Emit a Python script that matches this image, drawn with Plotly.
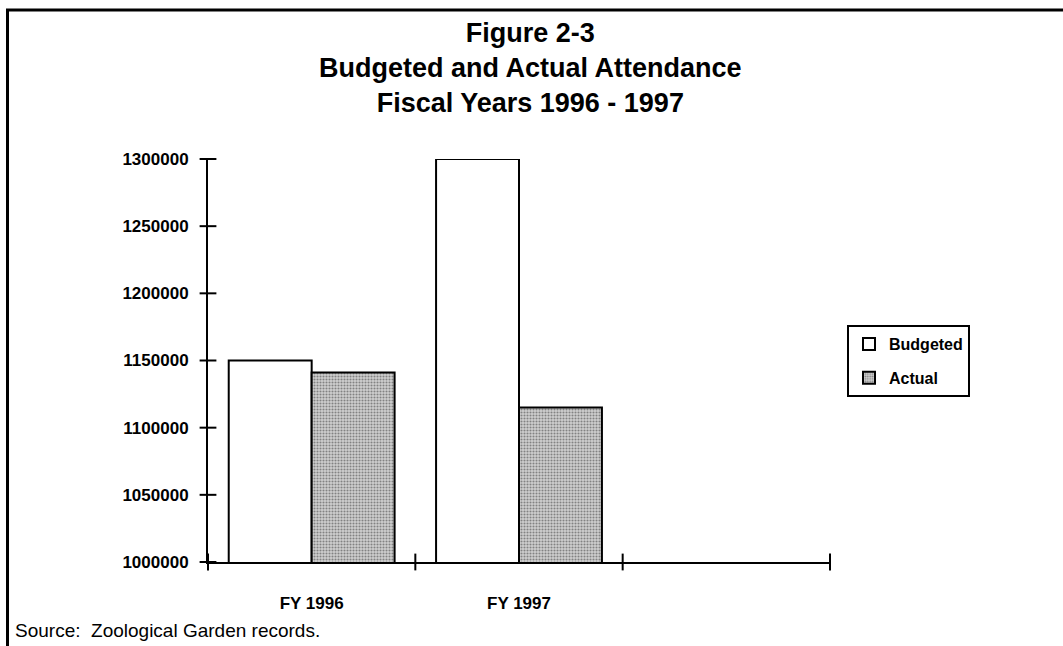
import plotly.graph_objects as go

# ---- data ----
categories = ["FY 1996", "FY 1997"]
budgeted = [1150000, 1300000]
actual = [1141000, 1115000]
y_ticks = [1000000, 1050000, 1100000, 1150000, 1200000, 1250000, 1300000]
x_boundaries = [-0.5, 0.5, 1.5, 2.5]
title_lines = ["Figure 2-3", "Budgeted and Actual Attendance", "Fiscal Years 1996 - 1997"]
source_text = "Source:\u00a0 Zoological Garden records."

W, H = 1063, 646
L, R, T, B = 208, 233, 159, 84
PW, PH = W - L - R, H - T - B

def px_x(p):
    return (p - L) / PW

def px_y(p):
    return (H - B - p) / PH

FONT = "Liberation Sans, Arial, Helvetica, sans-serif"
xpos = list(range(len(categories)))

fig = go.Figure()
fig.add_trace(go.Bar(
    x=xpos, y=budgeted, name="Budgeted", legendgroup="b",
    marker=dict(color="white", line=dict(color="black", width=2)),
))
fig.add_trace(go.Bar(
    x=xpos, y=actual, name="Actual", legendgroup="a",
    marker=dict(color="#c4c4c4", line=dict(color="black", width=2),
                pattern=dict(shape=".", fgcolor="#333333", bgcolor="#d0d0d0",
                             size=3, solidity=0.4)),
))
# crossing tick marks on both axes
fig.add_trace(go.Scatter(
    x=[x_boundaries[0]] * len(y_ticks), y=y_ticks, mode="markers",
    marker=dict(symbol="line-ew", size=12, line=dict(color="black", width=2)),
    showlegend=False, hoverinfo="skip", cliponaxis=False,
))
fig.add_trace(go.Scatter(
    x=x_boundaries, y=[y_ticks[0]] * len(x_boundaries), mode="markers",
    marker=dict(symbol="line-ns", size=12, line=dict(color="black", width=2)),
    showlegend=False, hoverinfo="skip", cliponaxis=False,
))

fig.update_layout(
    width=W, height=H, autosize=False,
    margin=dict(l=L, r=R, t=T, b=B),
    paper_bgcolor="white", plot_bgcolor="white",
    font=dict(family=FONT, color="black"),
    barmode="group", bargap=0.2, bargroupgap=0,
    showlegend=True,
    legend=dict(
        x=px_x(847), y=px_y(325), xanchor="left", yanchor="top",
        bordercolor="black", borderwidth=2, bgcolor="white",
        font=dict(size=16, family=FONT, weight="bold"),
        traceorder="grouped", tracegroupgap=10, itemwidth=30,
    ),
    xaxis=dict(
        range=[-0.5, 2.5], tickmode="array", tickvals=xpos, ticktext=categories,
        ticks="", showgrid=False, zeroline=False,
        showline=True, linecolor="black", linewidth=2,
        tickfont=dict(size=17, family=FONT, weight="bold"),
        ticklabelstandoff=25,
    ),
    yaxis=dict(
        range=[1000000, 1300000], tickmode="array", tickvals=y_ticks,
        ticktext=[str(v) for v in y_ticks],
        ticks="", showgrid=False, zeroline=False,
        showline=True, linecolor="black", linewidth=2,
        tickfont=dict(size=17, family=FONT, weight="bold"),
        ticklabelstandoff=14,
    ),
    annotations=[
        dict(text="<br>".join(title_lines), xref="paper", yref="paper",
             x=px_x(530), y=px_y(68), xanchor="center", yanchor="middle",
             showarrow=False, align="center",
             font=dict(size=27, family=FONT, weight="bold", color="black")),
        dict(text=source_text, xref="paper", yref="paper",
             x=px_x(13), y=px_y(630), xanchor="left", yanchor="middle",
             showarrow=False, align="left",
             font=dict(size=19, family=FONT, color="black")),
    ],
    shapes=[
        dict(type="line", xref="paper", yref="paper",
             x0=px_x(6), x1=px_x(1063), y0=px_y(10), y1=px_y(10),
             line=dict(color="black", width=3)),
        dict(type="line", xref="paper", yref="paper",
             x0=px_x(7.5), x1=px_x(7.5), y0=px_y(9), y1=px_y(646),
             line=dict(color="black", width=3)),
    ],
)

fig.write_html("out.html")
